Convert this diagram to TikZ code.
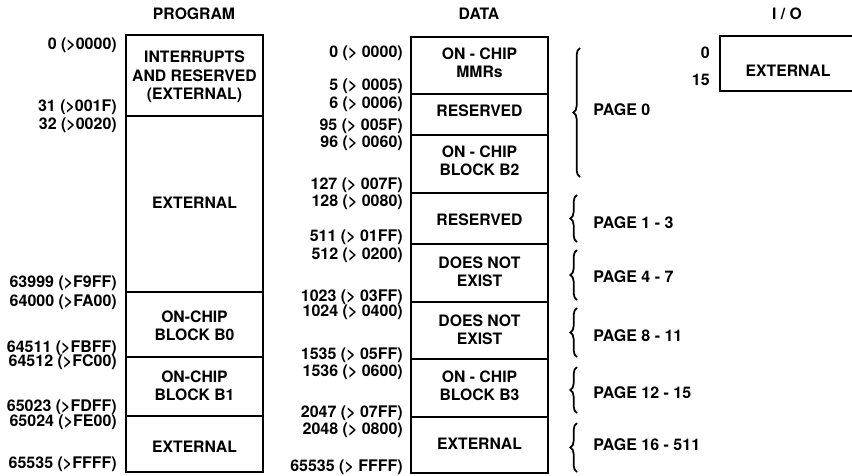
\documentclass[tikz,border=0pt]{standalone}
\usepackage{fontspec}
\setmainfont{TeX Gyre Heros}
\usetikzlibrary{decorations.pathreplacing}

\begin{document}
\begin{tikzpicture}[
        x=0.75pt, y=-0.75pt,
        mapbox/.style={draw, line width=1.3pt},
        blocktext/.style={font=\fontsize{11.8}{13.7}\selectfont\bfseries, align=center, inner sep=0pt},
        addr/.style={anchor=east, font=\fontsize{12}{13}\selectfont\bfseries, inner sep=0pt},
        heading/.style={font=\fontsize{11.8}{13}\selectfont\bfseries, inner sep=0pt},
        pagebrace/.style={decorate, decoration={brace, amplitude=5pt}, line width=1.3pt},
        pagelabel/.style={anchor=west, font=\fontsize{12}{13}\selectfont\bfseries, inner sep=0pt}
    ]
        \useasboundingbox (0,0) rectangle (852,475);

        % Program memory
        \node[heading] (progtitle) at (194,14) {PROGRAM};
        \foreach \top/\bot in {35/116, 116/292, 292/357, 357/416, 416/472} {
            \draw[mapbox] (126,\top) rectangle (263,\bot);
        }
        \node[blocktext] (intr) at (194.5,77) {INTERRUPTS\\AND RESERVED\\(EXTERNAL)};
        \node[blocktext] (pext) at (194.5,203) {EXTERNAL};
        \node[blocktext] (bzero) at (194.5,326) {ON-CHIP\\BLOCK B0};
        \node[blocktext] (bone) at (194.5,386) {ON-CHIP\\BLOCK B1};
        \node[blocktext] (pextb) at (194.5,447) {EXTERNAL};
        \foreach \y/\txt in {45/{0 (>0000)}, 107/{31 (>001F)}, 125/{32 (>0020)},
                283/{63999 (>F9FF)}, 302/{64000 (>FA00)}, 348/{64511 (>FBFF)},
                362/{64512 (>FC00)}, 407/{65023 (>FDFF)}, 422/{65024 (>FE00)},
                464/{65535 (>FFFF)}} {
            \node[addr] (pa\y) at (117,\y) {\txt};
        }

        % Data memory
        \node[heading] (datatitle) at (479,14) {DATA};
        \foreach \top/\bot in {37/94, 94/135, 135/193, 193/244, 244/302, 302/359, 359/417, 417/473} {
            \draw[mapbox, line width=1.5pt] (411,\top) rectangle (548,\bot);
        }
        \node[blocktext] (mmr) at (479.5,63) {ON - CHIP\\MMRs};
        \node[blocktext] (dres) at (479.5,111) {RESERVED};
        \node[blocktext] (btwo) at (479.5,161) {ON - CHIP\\BLOCK B2};
        \node[blocktext] (dresb) at (479.5,220) {RESERVED};
        \node[blocktext] (dne) at (479.5,272) {DOES NOT\\EXIST};
        \node[blocktext] (dneb) at (479.5,330) {DOES NOT\\EXIST};
        \node[blocktext] (bthree) at (479.5,386) {ON - CHIP\\BLOCK B3};
        \node[blocktext] (dext) at (479.5,444) {EXTERNAL};
        \foreach \y/\txt in {53/{0 (> 0000)}, 86/{5 (> 0005)}, 104/{6 (> 0006)},
                126/{95 (> 005F)}, 143/{96 (> 0060)}, 185/{127 (> 007F)},
                202/{128 (> 0080)}, 237/{511 (> 01FF)}, 255/{512 (> 0200)},
                297/{1023 (> 03FF)}, 312/{1024 (> 0400)}, 355/{1535 (> 05FF)},
                372/{1536 (> 0600)}, 413/{2047 (> 07FF)}, 430/{2048 (> 0800)},
                467/{65535 (> FFFF)}} {
            \node[addr] (da\y) at (403,\y) {\txt};
        }

        % Pages
        \draw[pagebrace] (580,177) -- (580,48);
        \node[pagelabel] (pg0) at (593,110) {PAGE 0};
        \foreach \top/\bot/\ylab/\txt in {195/242/223/{PAGE 1 - 3}, 250/300/277/{PAGE 4 - 7},
                308/357/336/{PAGE 8 - 11}, 367/413/393/{PAGE 12 - 15}, 423/472/445/{PAGE 16 - 511}} {
            \draw[pagebrace] (577,\bot) -- (577,\top);
            \node[pagelabel] (pg\ylab) at (593,\ylab) {\txt};
        }

        % I/O space
        \node[heading] (iotitle) at (787,14) {I / O};
        \draw[mapbox] (720,36) rectangle (860,91);
        \node[blocktext] (ioext) at (788,71) {EXTERNAL};
        \node[addr] (io0) at (710,53) {0};
        \node[addr] (io15) at (710,80) {15};
    \end{tikzpicture}
\end{document}
